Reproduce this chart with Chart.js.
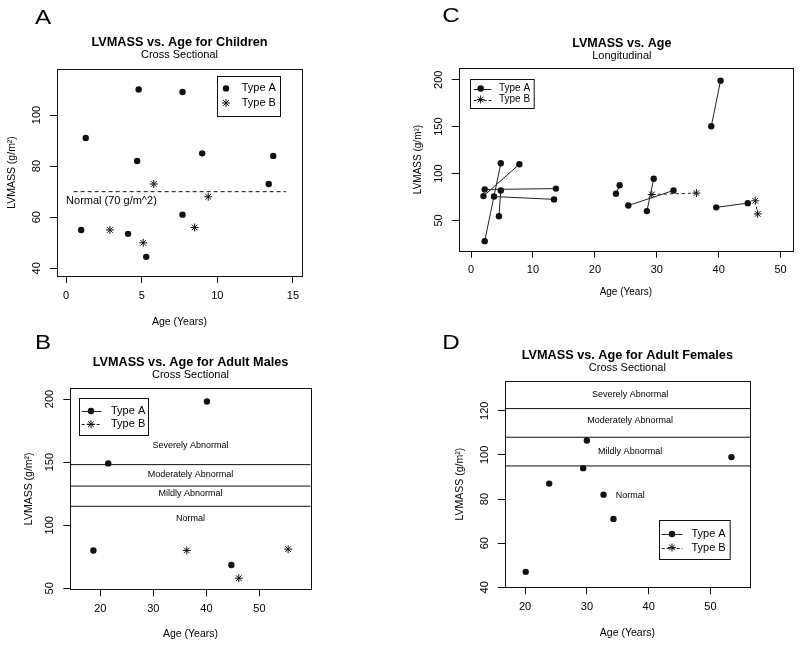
<!DOCTYPE html>
<html>
<head>
<meta charset="utf-8">
<script src="https://cdn.jsdelivr.net/npm/chart.js@4.4.0/dist/chart.umd.min.js"></script>
<style>
  html, body { margin: 0; padding: 0; background: #fff; }
  #fig { position: relative; width: 800px; height: 645px; overflow: hidden; }
  #fig canvas { position: absolute; left: 0; top: 0; }
  .tag { position: absolute; width: 40px; height: 24px; line-height: 24px; text-align: center;
         font: 20.5px "Liberation Sans", Arial, sans-serif; color: #000; transform: scaleX(1.18); }
</style>
</head>
<body>
<div id="fig">
  <canvas id="chartA" width="800" height="645"></canvas>
  <canvas id="chartB" width="800" height="645"></canvas>
  <canvas id="chartC" width="800" height="645"></canvas>
  <canvas id="chartD" width="800" height="645"></canvas>
  <div class="tag" style="left:22.5px;top:4.7px">A</div>
  <div class="tag" style="left:431.3px;top:2.7px">C</div>
  <div class="tag" style="left:22.5px;top:330.2px">B</div>
  <div class="tag" style="left:431.3px;top:329.7px">D</div>
</div>
<script>
// ---- panel A: children, cross sectional
const childAgeA = [1.0, 1.3, 4.8, 4.7, 4.1, 5.3, 7.7, 7.7, 9.0, 13.4, 13.7];
const childLvA  = [55, 91, 110, 82, 53.5, 44.5, 109, 61, 85, 73, 84];
const childAgeB = [2.9, 5.1, 5.8, 8.5, 9.4];
const childLvB  = [55, 50, 73, 56, 68];
const childNormal = 70;
const childNormalX = [0.5, 14.55];
const aXTicks = [0, 5, 10, 15];
const aYTicks = [40, 60, 80, 100];

// ---- panel B: adult males
const maleAgeA = [18.7, 21.5, 40.1, 44.7];
const maleLvA  = [80, 149, 198, 68.5];
const maleAgeB = [36.3, 46.1, 55.4];
const maleLvB  = [80, 58, 81];
const maleCutoffs = [115, 131, 148];
const bandNames = ['Normal', 'Mildly Abnormal', 'Moderately Abnormal', 'Severely Abnormal'];
const maleBandY = [105, 125, 140, 163];
const bXTicks = [20, 30, 40, 50];
const bYTicks = [50, 100, 150, 200];

// ---- panel C: longitudinal, first visit -> second visit per subject
const longAgeA1 = [2.2, 2.0, 2.2, 3.7, 4.5, 23.4, 25.4, 28.4, 38.8, 39.6];
const longLvA1  = [83, 76, 28, 75.5, 54.5, 78.5, 66, 60, 150.5, 64];
const longAgeA2 = [13.7, 7.8, 4.8, 13.4, 4.8, 24.0, 32.7, 29.5, 40.3, 44.7];
const longLvA2  = [84, 110, 111, 72.5, 82, 87.5, 82, 94.5, 199, 68.5];
const longAgeB1 = [29.2, 45.9];
const longLvB1  = [77.7, 71];
const longAgeB2 = [36.4, 46.3];
const longLvB2  = [79.2, 57];
const cXTicks = [0, 10, 20, 30, 40, 50];
const cYTicks = [50, 100, 150, 200];

// ---- panel D: adult females
const femaleAgeA = [20.1, 23.9, 29.4, 30.0, 32.7, 34.3, 53.4];
const femaleLvA  = [47, 87, 94, 106.5, 82, 71, 99];
const femaleCutoffs = [95, 108, 121];
const femaleBandY = [81.8, 101.5, 115.6, 127.4];
const dXTicks = [20, 30, 40, 50];
const dYTicks = [40, 60, 80, 100, 120];

const FONT = '"Liberation Sans", Arial, Helvetica, sans-serif';
const INK = '#111';
Chart.defaults.font.family = FONT;

const pts = (xs, ys) => xs.map((x, i) => ({ x: x, y: ys[i] }));

// pairs of points, broken apart by a gap
function segments(x1, y1, x2, y2) {
  const out = [];
  x1.forEach((_, i) => {
    out.push({ x: x1[i], y: y1[i] }, { x: x2[i], y: y2[i] }, { x: x2[i], y: null });
  });
  return out;
}

// horizontal lines across the whole x range
function hlines(levels, x0, x1) {
  const out = [];
  levels.forEach(v => out.push({ x: x0, y: v }, { x: x1, y: v }, { x: x1, y: null }));
  return out;
}

const dotStyle = { pointStyle: 'circle', pointRadius: 3.2, pointBackgroundColor: INK, pointBorderColor: INK,
                   pointBorderWidth: 0, borderColor: '#222', borderWidth: 1, backgroundColor: INK };
const starStyle = { pointStyle: 'star', pointRadius: 4, pointBorderColor: INK, pointBorderWidth: 1,
                    borderColor: '#222', borderWidth: 1, backgroundColor: INK };
const refLine = { showLine: true, pointRadius: 0, borderColor: INK, borderWidth: 1 };

function drawMarker(ctx, style, x, y, r) {
  ctx.save();
  ctx.setLineDash([]);
  if (style === 'star') {
    ctx.strokeStyle = INK;
    ctx.lineWidth = 1;
    ctx.beginPath();
    for (let k = 0; k < 4; k++) {
      const t = k * Math.PI / 4;
      ctx.moveTo(x - r * Math.cos(t), y - r * Math.sin(t));
      ctx.lineTo(x + r * Math.cos(t), y + r * Math.sin(t));
    }
    ctx.stroke();
  } else {
    ctx.fillStyle = INK;
    ctx.beginPath();
    ctx.arc(x, y, r, 0, 2 * Math.PI);
    ctx.fill();
  }
  ctx.restore();
}

// R-like frame, titles, text notes and boxed legend
function decor(o) {
  return {
    id: 'rDecor',
    afterDatasetsDraw(chart) {
      const { ctx, chartArea: a } = chart;
      const sx = chart.scales.x, sy = chart.scales.y;
      ctx.save();
      ctx.strokeStyle = INK;
      ctx.lineWidth = 1;
      ctx.setLineDash([]);
      const L = Math.round(a.left), T = Math.round(a.top);
      ctx.strokeRect(L + 0.5, T + 0.5, Math.round(a.right) - L, Math.round(a.bottom) - T);

      ctx.fillStyle = '#000';
      ctx.textAlign = 'center';
      ctx.textBaseline = 'middle';
      const cx = (a.left + a.right) / 2 + (o.shift || 0);
      ctx.font = 'bold ' + o.titleSize + 'px ' + FONT;
      ctx.fillText(o.title, cx, a.top - o.titleGap);
      ctx.font = o.subSize + 'px ' + FONT;
      ctx.fillText(o.subtitle, cx, a.top - o.subGap);

      (o.notes || []).forEach(n => {
        ctx.font = n.size + 'px ' + FONT;
        ctx.fillText(n.text, sx.getPixelForValue(n.x), sy.getPixelForValue(n.y));
      });

      const g = o.legend;
      const bx = Math.round(g.right != null ? a.right - g.right - g.w : a.left + g.left);
      const by = Math.round(g.bottom != null ? a.bottom - g.bottom - g.h : a.top + g.top);
      ctx.strokeStyle = INK;
      ctx.strokeRect(bx + 0.5, by + 0.5, g.w, g.h);
      ctx.font = g.size + 'px ' + FONT;
      ctx.textAlign = 'left';
      g.rows.forEach((row, i) => {
        const ds = chart.data.datasets[i];
        const ry = by + row.y;
        if (row.dash) {
          ctx.save();
          ctx.strokeStyle = '#222';
          ctx.setLineDash(row.dash);
          ctx.beginPath();
          ctx.moveTo(bx + g.line[0], Math.round(ry) + 0.5);
          ctx.lineTo(bx + g.line[1], Math.round(ry) + 0.5);
          ctx.stroke();
          ctx.restore();
        }
        drawMarker(ctx, ds.pointStyle, bx + g.mx, ry, ds.pointRadius);
        ctx.fillStyle = '#000';
        ctx.fillText(ds.label, bx + g.tx, ry);
      });
      ctx.restore();
    }
  };
}

function makeChart(id, p) {
  const lh = p.labSize * 1.2;
  const padLeft = p.yTitleX - lh / 2;
  const xBottom = p.xTitleY + lh / 2;
  const tickFont = { family: FONT, size: 11 };
  const grid = { drawOnChartArea: false, drawTicks: true, tickLength: 7, color: INK, lineWidth: 1 };
  return new Chart(document.getElementById(id), {
    type: 'scatter',
    data: { datasets: p.datasets },
    options: {
      responsive: false,
      animation: false,
      events: [],
      layout: { padding: { left: padLeft, top: p.box[1], right: 800 - p.box[2], bottom: 645 - xBottom } },
      plugins: { legend: { display: false }, tooltip: { enabled: false } },
      scales: {
        x: {
          type: 'linear', position: 'bottom', min: p.x[0], max: p.x[1],
          afterBuildTicks: s => { s.ticks = p.xTicks.map(v => ({ value: v })); },
          afterFit: s => { s.height = xBottom - p.box[3]; },
          grid: grid,
          border: { display: false },
          ticks: { font: tickFont, color: '#000', padding: 6, maxRotation: 0, autoSkip: false },
          title: { display: true, text: 'Age (Years)', color: '#000', font: { family: FONT, size: p.labSize }, padding: 0 }
        },
        y: {
          type: 'linear', position: 'left', min: p.y[0], max: p.y[1],
          afterBuildTicks: s => { s.ticks = p.yTicks.map(v => ({ value: v })); },
          afterFit: s => { s.width = p.box[0] - padLeft; },
          grid: grid,
          border: { display: false },
          ticks: { font: tickFont, color: '#000', padding: 4, minRotation: 90, maxRotation: 90,
                   crossAlign: 'center', autoSkip: false },
          title: { display: true, text: 'LVMASS (g/m²)', color: '#000', font: { family: FONT, size: p.labSize }, padding: 0 }
        }
      }
    },
    plugins: [decor(p.decor)]
  });
}

// A
makeChart('chartA', {
  box: [57, 69, 302, 276], x: [-0.6, 15.6], y: [37, 118], xTicks: aXTicks, yTicks: aYTicks,
  yTitleX: 11.7, xTitleY: 322.3, labSize: 10.5,
  datasets: [
    Object.assign({ label: 'Type A', data: pts(childAgeA, childLvA) }, dotStyle),
    Object.assign({ label: 'Type B', data: pts(childAgeB, childLvB) }, starStyle),
    Object.assign({ label: 'Normal', data: pts(childNormalX, [childNormal, childNormal]), borderDash: [4, 3] }, refLine)
  ],
  decor: {
    title: 'LVMASS vs. Age for Children', subtitle: 'Cross Sectional', titleSize: 12.7, subSize: 11,
    titleGap: 26.8, subGap: 14.2,
    notes: [{ text: 'Normal (70 g/m^2)', x: 3.0, y: 66.5, size: 11 }],
    legend: { right: 22, top: 7, w: 63, h: 40, size: 11, mx: 9, tx: 24.7,
              rows: [{ y: 12.4 }, { y: 27 }] }
  }
});

// C
makeChart('chartC', {
  box: [458.7, 68.3, 793, 250.7], x: [-2, 52], y: [17.8, 212.2], xTicks: cXTicks, yTicks: cYTicks,
  yTitleX: 418, xTitleY: 292.3, labSize: 10,
  datasets: [
    Object.assign({ label: 'Type A', data: segments(longAgeA1, longLvA1, longAgeA2, longLvA2), showLine: true, spanGaps: false }, dotStyle),
    Object.assign({ label: 'Type B', data: segments(longAgeB1, longLvB1, longAgeB2, longLvB2), showLine: true, spanGaps: false, borderDash: [3, 3] }, starStyle)
  ],
  decor: {
    title: 'LVMASS vs. Age', subtitle: 'Longitudinal', titleSize: 12.5, subSize: 11,
    titleGap: 24.8, subGap: 12.3, shift: -4,
    legend: { left: 11.6, top: 10.7, w: 63.7, h: 29, size: 10, mx: 10.7, tx: 29, line: [3.7, 21.4],
              rows: [{ y: 9.5, dash: [] }, { y: 20.5, dash: [3, 2] }] }
  }
});

// B
makeChart('chartB', {
  box: [70.3, 388.3, 310.7, 589.3], x: [14.35, 59.65], y: [49.2, 208.5], xTicks: bXTicks, yTicks: bYTicks,
  yTitleX: 29, xTitleY: 634, labSize: 10.5,
  datasets: [
    Object.assign({ label: 'Type A', data: pts(maleAgeA, maleLvA) }, dotStyle),
    Object.assign({ label: 'Type B', data: pts(maleAgeB, maleLvB) }, starStyle),
    Object.assign({ label: 'cutoffs', data: hlines(maleCutoffs, 14.35, 59.65), spanGaps: false }, refLine)
  ],
  decor: {
    title: 'LVMASS vs. Age for Adult Males', subtitle: 'Cross Sectional', titleSize: 12.7, subSize: 11,
    titleGap: 26, subGap: 13.6,
    notes: bandNames.map((t, i) => ({ text: t, x: 37, y: maleBandY[i], size: 9 })),
    legend: { left: 9, top: 10, w: 69, h: 37, size: 11, mx: 12, tx: 32, line: [2.7, 22.4],
              rows: [{ y: 13, dash: [] }, { y: 26.2, dash: [3, 2] }] }
  }
});

// D
makeChart('chartD', {
  box: [504.7, 381, 750, 587.3], x: [16.7, 56.4], y: [40, 133.5], xTicks: dXTicks, yTicks: dYTicks,
  yTitleX: 460, xTitleY: 633.3, labSize: 10.5,
  datasets: [
    Object.assign({ label: 'Type A', data: pts(femaleAgeA, femaleLvA) }, dotStyle),
    Object.assign({ label: 'Type B', data: [] }, starStyle),
    Object.assign({ label: 'cutoffs', data: hlines(femaleCutoffs, 16.7, 56.4), spanGaps: false }, refLine)
  ],
  decor: {
    title: 'LVMASS vs. Age for Adult Females', subtitle: 'Cross Sectional', titleSize: 12.7, subSize: 11,
    titleGap: 26, subGap: 12.7,
    notes: bandNames.map((t, i) => ({ text: t, x: 37, y: femaleBandY[i], size: 9 })),
    legend: { right: 20, bottom: 28, w: 70.7, h: 39, size: 11, mx: 13, tx: 32.4, line: [2.7, 23.4],
              rows: [{ y: 14, dash: [] }, { y: 27.5, dash: [3, 2] }] }
  }
});
</script>
</body>
</html>
